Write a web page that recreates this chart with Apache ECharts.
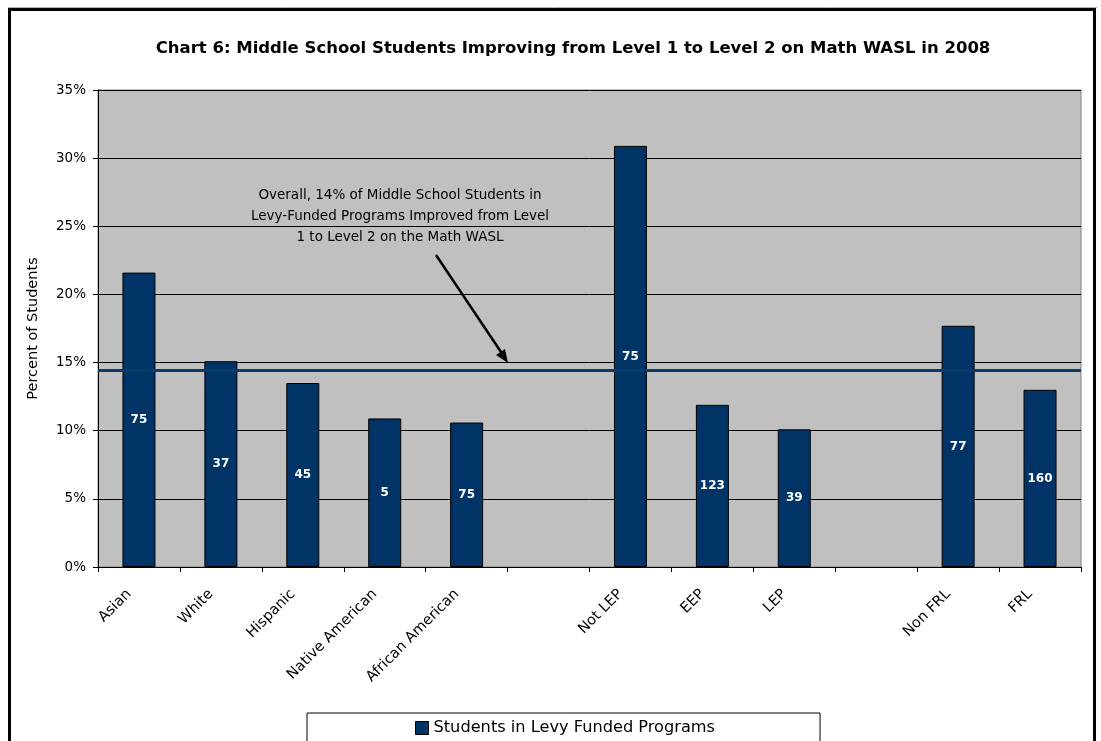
<!DOCTYPE html>
<html>
<head>
<meta charset="utf-8">
<script src="https://cdn.jsdelivr.net/npm/echarts@6/dist/echarts.min.js"></script>
<style>
html,body{margin:0;padding:0;background:#fff;}
#c{width:1101px;height:741px;}
</style>
</head>
<body>
<div id="c"></div>
<script>
const categories = ['Asian','White','Hispanic','Native American','African American','','Not LEP','EEP','LEP','','Non FRL','FRL'];
const percentValues = [21.6, 15.1, 13.5, 10.9, 10.6, null, 30.9, 11.9, 10.1, null, 17.7, 13.0];
const studentCounts = [75, 37, 45, 5, 75, null, 75, 123, 39, null, 77, 160];
const overallPercent = 14.4;
const yTicks = [0, 5, 10, 15, 20, 25, 30, 35];
const seriesName = 'Students in Levy Funded Programs';
const titleText = 'Chart 6: Middle School Students Improving from Level 1 to Level 2 on Math WASL in 2008';
const annotationLines = ['Overall, 14% of Middle School Students in', 'Levy-Funded Programs Improved from Level', '1 to Level 2 on the Math WASL'];

const FONT = "'DejaVu Sans', 'Liberation Sans', sans-serif";
const chart = echarts.init(document.getElementById('c'), null, {renderer: 'canvas'});

const option = {
  backgroundColor: '#ffffff',
  animation: false,
  textStyle: {fontFamily: FONT, color: '#000'},
  title: {
    text: titleText,
    left: 568, top: 35,
    textAlign: 'center',
    textStyle: {fontFamily: FONT, fontSize: 16.5, fontWeight: 'bold', color: '#000'}
  },
  legend: {
    data: [seriesName],
    left: 307, top: 713,
    padding: [7, 105, 7, 108],
    backgroundColor: '#ffffff',
    borderColor: '#000', borderWidth: 1,
    itemWidth: 13, itemHeight: 13, itemGap: 4,
    icon: 'rect',
    itemStyle: {borderColor: '#000', borderWidth: 1},
    textStyle: {fontFamily: FONT, fontSize: 16.2, color: '#000'}
  },
  grid: {left: 98, right: 20, top: 90, bottom: 174, containLabel: false,
         show: true, backgroundColor: '#c0c0c0', borderColor: '#808080', borderWidth: 1},
  xAxis: {
    type: 'category',
    data: categories,
    axisLine: {show: true, lineStyle: {color: '#000', width: 1}},
    axisTick: {show: true, length: 5, lineStyle: {color: '#000'}},
    axisLabel: {rotate: 45, margin: 15, fontSize: 14.5, color: '#000', fontFamily: FONT, interval: 0,
      padding: [0, 14, 0, 0]}
  },
  yAxis: {
    type: 'value',
    min: 0, max: 35, interval: 5,
    name: 'Percent of Students',
    nameLocation: 'middle', nameGap: 57, nameRotate: 90,
    nameTextStyle: {fontFamily: FONT, fontSize: 14.5, color: '#000'},
    axisLine: {show: true, lineStyle: {color: '#000', width: 1}},
    axisTick: {show: true, length: 5, lineStyle: {color: '#000'}},
    axisLabel: {fontSize: 13.5, color: '#000', fontFamily: FONT, margin: 12,
      formatter: v => yTicks.includes(v) ? v + '%' : ''},
    splitLine: {show: true, lineStyle: {color: '#000', width: 1}}
  },
  series: [{
    name: seriesName,
    type: 'bar',
    data: percentValues,
    barWidth: 33,
    itemStyle: {color: '#003366', borderColor: '#000', borderWidth: 1},
    label: {
      show: true, position: 'inside',
      fontFamily: FONT, fontSize: 12, fontWeight: 'bold', color: '#fff',
      formatter: p => studentCounts[p.dataIndex] == null ? '' : String(studentCounts[p.dataIndex])
    },
    markLine: {
      silent: true, symbol: ['none', 'none'],
      label: {show: false},
      lineStyle: {color: '#0b3b6e', width: 3, type: 'solid'},
      data: [{yAxis: overallPercent}]
    },
    z: 2
  }],
  graphic: [
    {type: 'rect', shape: {x: 9.5, y: 9.5, width: 1085, height: 760}, style: {fill: 'none', stroke: '#000', lineWidth: 3}, z: 100},
    {type: 'line', shape: {x1: 8, y1: 7.5, x2: 1097, y2: 7.5}, style: {stroke: '#b0b0b0', lineWidth: 1}, z: 100},
    {type: 'text', x: 400, y: 216, style: {text: annotationLines.join('\n'), fontFamily: FONT, fontSize: 13.5, fill: '#000', align: 'center', verticalAlign: 'middle', lineHeight: 21}, z: 50},
    {type: 'line', shape: {x1: 436, y1: 255, x2: 503, y2: 355}, style: {stroke: '#000', lineWidth: 2.5}, z: 50},
    {type: 'polygon', shape: {points: [[508, 363], [496, 355], [505, 349]]}, style: {fill: '#000'}, z: 50}
  ]
};
chart.setOption(option);
</script>
</body>
</html>
